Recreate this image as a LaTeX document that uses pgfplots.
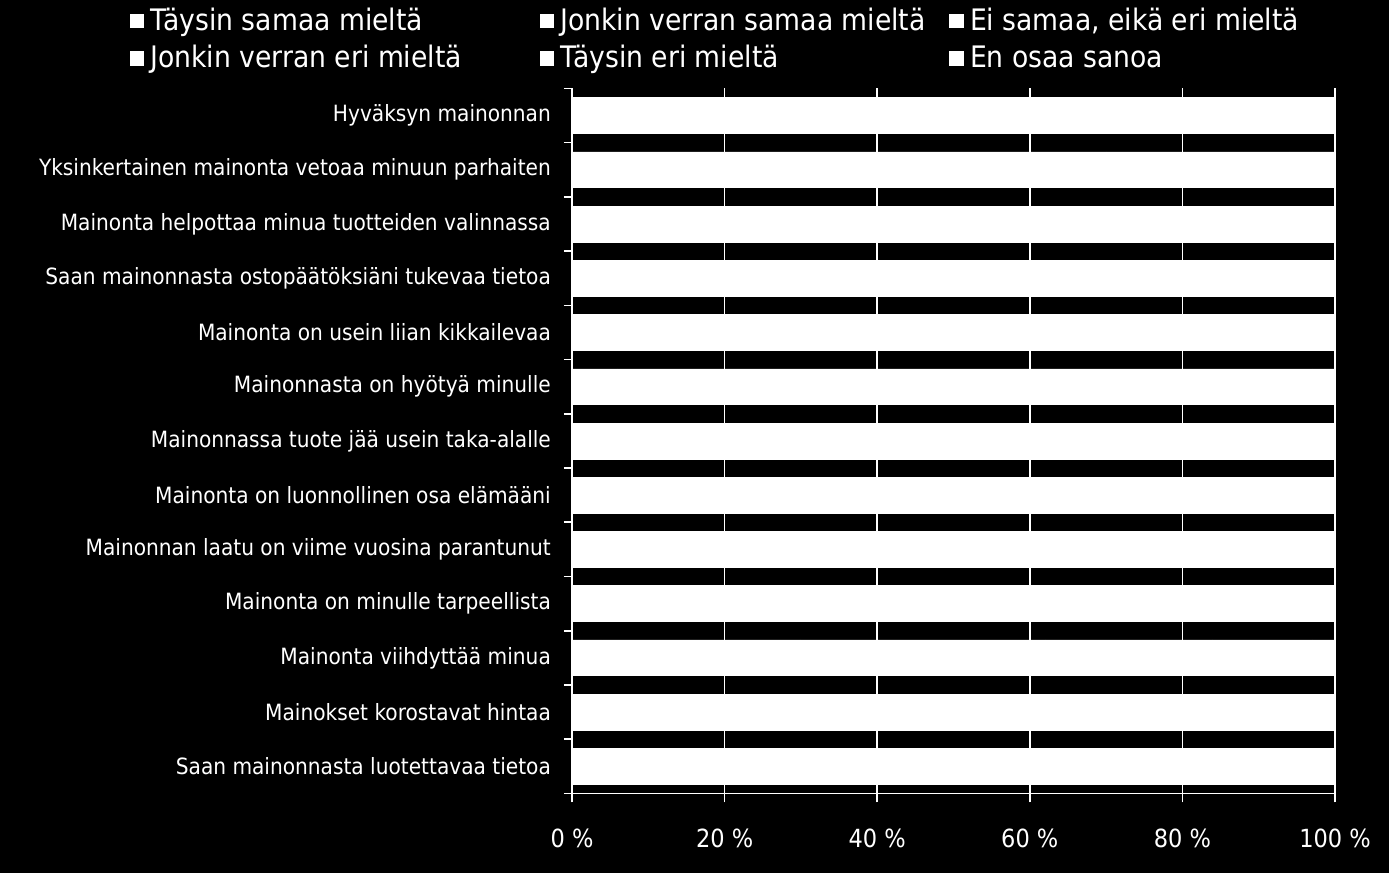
\documentclass[border=0pt]{standalone}
\usepackage{fontspec}
\setmainfont{DejaVu Sans Condensed}
\usepackage{pgfplots}
\usepackage{pgfplotstable}
\pgfplotsset{compat=1.18}
\pgfplotstableread{
y  a  b  c  d  e  f
12 20 45 18 8  5  4
11 25 45 18 6  3  3
10 10 40 25 14 8  3
9  8  42 25 14 8  3
8  12 38 30 12 4  4
7  6  35 30 17 9  3
6  8  32 35 16 5  4
5  10 30 28 17 12 3
4  5  30 38 13 6  8
3  5  25 35 20 12 3
2  4  26 32 22 13 3
1  6  28 40 16 5  5
0  2  22 38 24 11 3
}\data
\newcommand{\legbox}[1]{\makebox[192.5pt][l]{#1}}
\begin{document}
\begin{tikzpicture}
\fill[black] (0,0) rectangle (694.5pt,436.5pt);
\begin{axis}[
  at={(286pt,40pt)}, anchor=south west,
  width=381.5pt, height=352.5pt, scale only axis,
  xbar stacked, bar width=0.66,
  xmin=0, xmax=100, ymin=-0.5, ymax=12.5,
  axis x line*=bottom, axis y line*=left,
  axis line style={white, line width=0.8pt, -},
  xtick={0,20,...,100},
  xticklabel={\pgfmathprintnumber{\tick}~\%},
  /pgf/number format/assume math mode=true,
  xticklabel style={font=\fontsize{12.5}{14}\selectfont, text=white, yshift=-9.5pt},
  ytick={0,...,12},
  yticklabels={Saan mainonnasta luotettavaa tietoa, Mainokset korostavat hintaa, Mainonta viihdyttää minua, Mainonta on minulle tarpeellista, Mainonnan laatu on viime vuosina parantunut, Mainonta on luonnollinen osa elämääni, Mainonnassa tuote jää usein taka-alalle, Mainonnasta on hyötyä minulle, Mainonta on usein liian kikkailevaa, Saan mainonnasta ostopäätöksiäni tukevaa tietoa, Mainonta helpottaa minua tuotteiden valinnassa, Yksinkertainen mainonta vetoaa minuun parhaiten, Hyväksyn mainonnan},
  yticklabel style={font=\fontsize{11.2}{13}\selectfont, text=white, xshift=-2.5pt},
  minor ytick={-0.5,0.5,...,12.5},
  tick align=outside,
  major tick length=4.5pt, minor tick length=4pt,
  tick style={white, line width=0.8pt},
  major y tick style={draw=none},
  xmajorgrids=true,
  grid style={white, line width=0.8pt},
  legend columns=3,
  legend cell align=left,
  legend style={at={(-0.588,1.126)}, anchor=north west, draw=none, fill=none,
    text=white, font=\fontsize{14.8}{17}\selectfont,
    /tikz/every even column/.append style={column sep=0pt},
    /tikz/every odd column/.append style={column sep=1.5pt}, row sep=2pt},
  mybar/.style={fill=white, draw=white, line width=0.3pt,
    legend image code/.code={\fill[white] (0pt,-3.3pt) rectangle (6.6pt,3.3pt);}},
]
\addplot[mybar] table[x=a, y=y] {\data};
\addplot[mybar] table[x=b, y=y] {\data};
\addplot[mybar] table[x=c, y=y] {\data};
\addplot[mybar] table[x=d, y=y] {\data};
\addplot[mybar] table[x=e, y=y] {\data};
\addplot[mybar] table[x=f, y=y] {\data};
\legend{\legbox{Täysin samaa mieltä}, \legbox{Jonkin verran samaa mieltä}, \legbox{Ei samaa, eikä eri mieltä}, \legbox{Jonkin verran eri mieltä}, \legbox{Täysin eri mieltä}, \legbox{En osaa sanoa}}
\end{axis}
\end{tikzpicture}
\end{document}
